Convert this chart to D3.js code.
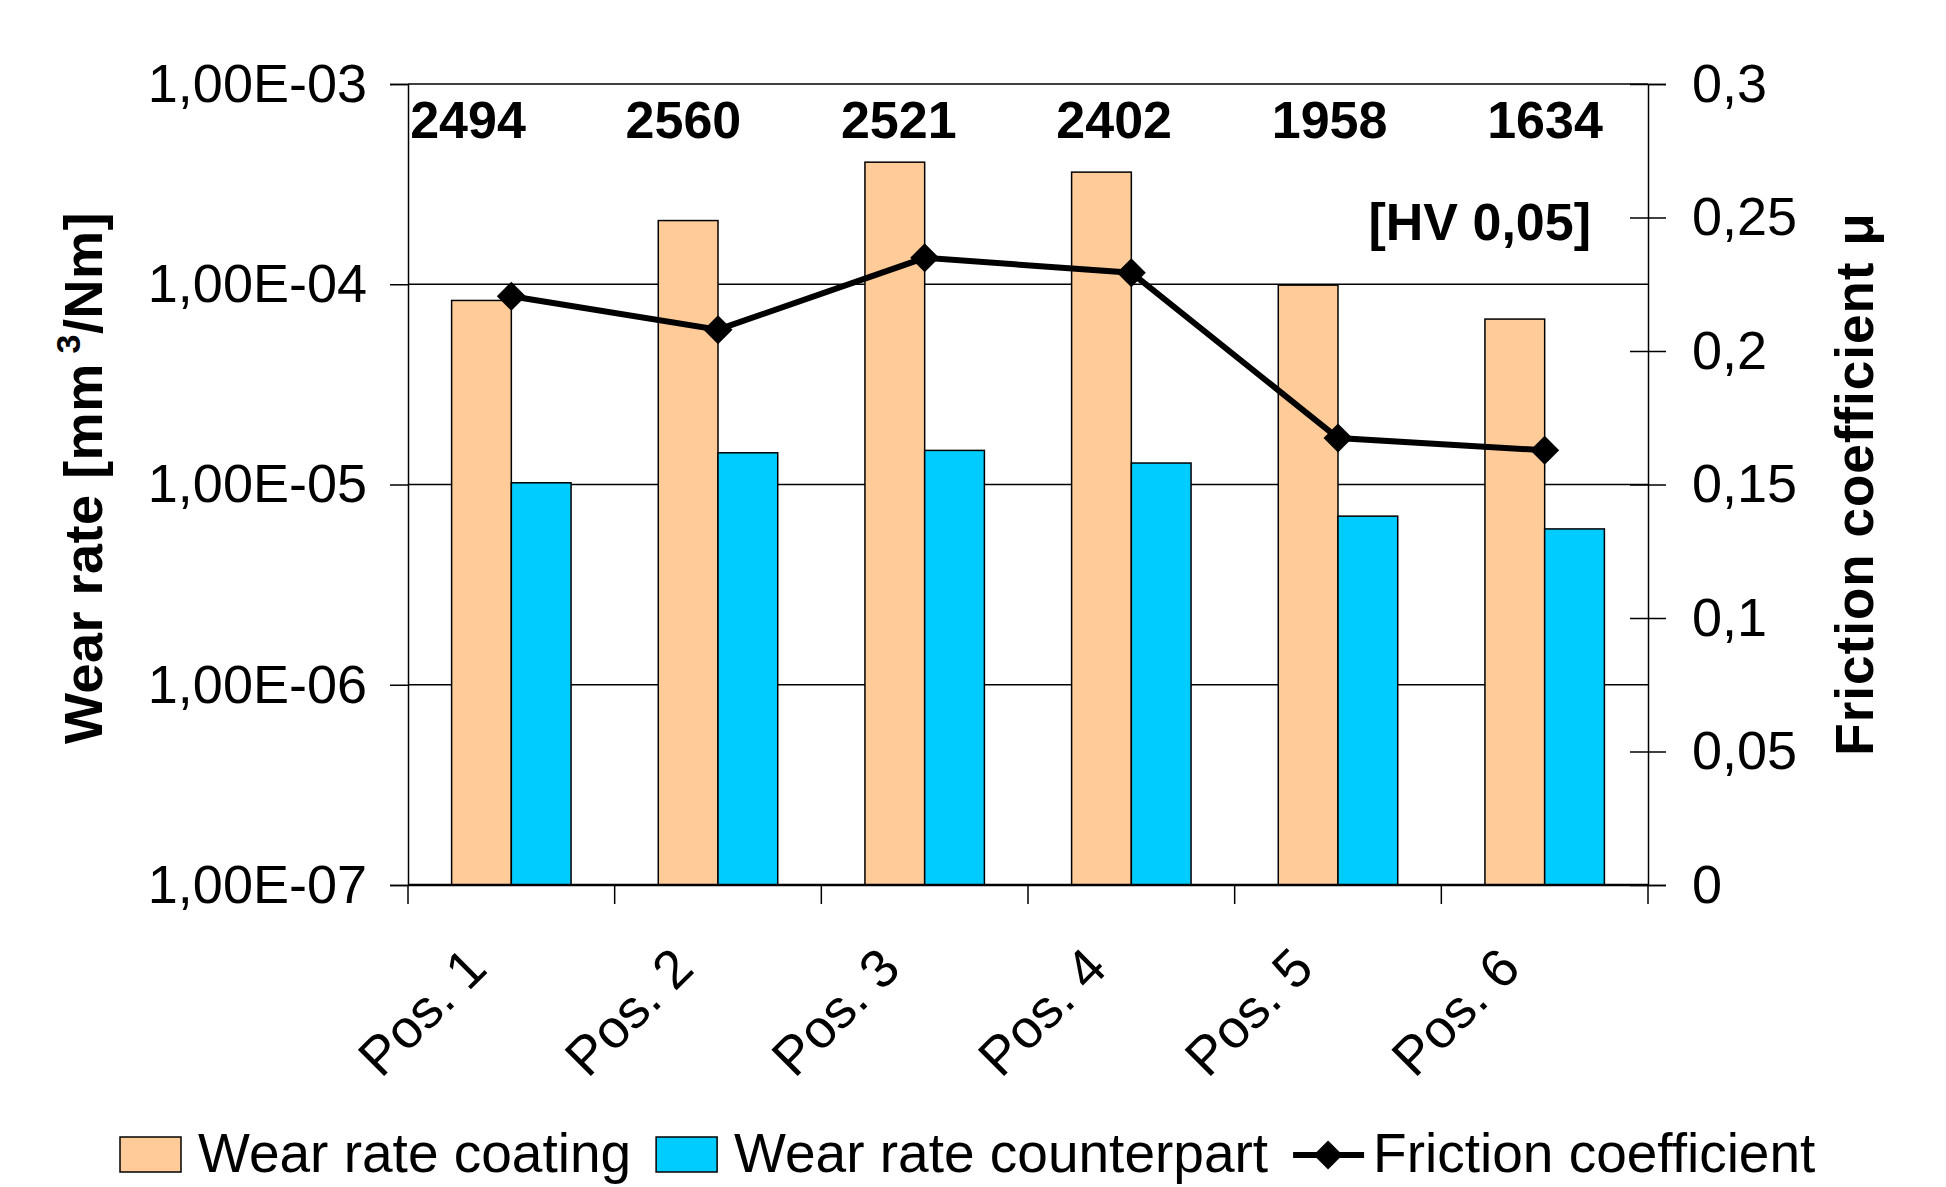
<!DOCTYPE html>
<html>
<head>
<meta charset="utf-8">
<script src="https://cdn.jsdelivr.net/npm/d3@7"></script>
<style>
	body { margin: 0; background: #fff; }
	svg { display: block; font-family: "Liberation Sans", Arial, sans-serif; }
</style>
</head>
<body>
<svg id="chart" width="1946" height="1187"></svg>
<script>
// values
const categories = ["Pos. 1", "Pos. 2", "Pos. 3", "Pos. 4", "Pos. 5", "Pos. 6"];
const wearCoating = [8.3e-5, 2.08e-4, 4.07e-4, 3.63e-4, 9.9e-5, 6.7e-5];
const wearCounterpart = [1.02e-5, 1.44e-5, 1.48e-5, 1.28e-5, 6.95e-6, 6.0e-6];
const friction = [0.2205, 0.208, 0.2349, 0.2293, 0.1674, 0.1628];
const hardness = [2494, 2560, 2521, 2402, 1958, 1634];
const leftTicks = [1e-7, 1e-6, 1e-5, 1e-4, 1e-3];
const rightTicks = [0, 0.05, 0.1, 0.15, 0.2, 0.25, 0.3];
const seriesNames = ["Wear rate coating", "Wear rate counterpart", "Friction coefficient"];
const seriesColors = ["#FFCC99", "#00CCFF", "#000000"];

const plotLeft = 408, plotRight = 1648, plotTop = 84, plotBottom = 885;
const font = 54;

const svg = d3.select("#chart");

const x0 = d3.scaleBand().domain(categories).range([plotLeft, plotRight]).padding(0);
const x1 = d3.scaleBand().domain([0, 1]).range([0, x0.bandwidth()]).paddingInner(0).paddingOuter(0.73);
const y = d3.scaleLog().domain([1e-7, 1e-3]).range([plotBottom, plotTop]);
const y2 = d3.scaleLinear().domain([0, 0.3]).range([plotBottom, plotTop]);

// horizontal gridlines on the decades
svg.append("g")
	.selectAll("line")
	.data(leftTicks)
	.enter().append("line")
	.attr("x1", plotLeft).attr("x2", plotRight)
	.attr("y1", d => y(d)).attr("y2", d => y(d))
	.attr("stroke", "#000")
	.attr("stroke-width", 1.5);

// bars
const rows = categories.map((c, i) => ({ c: c, vals: [wearCoating[i], wearCounterpart[i]] }));
svg.append("g")
	.selectAll("g")
	.data(rows)
	.enter().append("g")
	.attr("transform", d => "translate(" + x0(d.c) + ",0)")
	.selectAll("rect")
	.data(d => d.vals.map((v, k) => ({ k: k, v: v })))
	.enter().append("rect")
	.attr("x", d => x1(d.k))
	.attr("width", x1.bandwidth())
	.attr("y", d => y(d.v))
	.attr("height", d => plotBottom - y(d.v))
	.attr("fill", d => seriesColors[d.k])
	.attr("stroke", "#000")
	.attr("stroke-width", 1.5);

// left axis
const fmtExp = d => "1,00E-" + String(-Math.round(Math.log10(d))).padStart(2, "0");
const gLeft = svg.append("g")
	.attr("transform", "translate(" + plotLeft + ",0)")
	.call(d3.axisLeft(y).tickValues(leftTicks).tickFormat(fmtExp).tickSize(18).tickPadding(23));
gLeft.select(".domain").attr("stroke", "#000").attr("stroke-width", 1.5);
gLeft.selectAll(".tick line").attr("stroke-width", 1.5);
gLeft.selectAll("text").style("font-size", font + "px").attr("fill", "#000");

// right axis, ticks cross the line
const fmtComma = d => d3.format("~g")(d).replace(".", ",");
const gRight = svg.append("g")
	.attr("transform", "translate(" + plotRight + ",0)")
	.call(d3.axisRight(y2).tickValues(rightTicks).tickFormat(fmtComma).tickSize(18));
gRight.select(".domain").attr("stroke", "#000").attr("stroke-width", 1.5);
gRight.selectAll(".tick line").attr("x1", -18).attr("x2", 18).attr("stroke-width", 1.5);
gRight.selectAll("text").attr("x", 44).style("font-size", font + "px").attr("fill", "#000");

// bottom axis with ticks on category boundaries
const bounds = categories.map(c => x0(c)).concat([plotRight]);
svg.append("line")
	.attr("x1", plotLeft).attr("x2", plotRight)
	.attr("y1", plotBottom).attr("y2", plotBottom)
	.attr("stroke", "#000").attr("stroke-width", 2.5);
svg.append("g")
	.selectAll("line")
	.data(bounds)
	.enter().append("line")
	.attr("x1", d => d).attr("x2", d => d)
	.attr("y1", plotBottom).attr("y2", plotBottom + 19)
	.attr("stroke", "#000").attr("stroke-width", 1.5);

svg.append("g")
	.selectAll("text")
	.data(categories)
	.enter().append("text")
	.attr("transform", d => "translate(" + (x0(d) + x0.bandwidth() / 2 - 22) + "," + (plotBottom + 86) + ") rotate(-45)")
	.attr("text-anchor", "end")
	.style("font-size", "54px")
	.text(d => d);

// friction line
const cx = i => x0(categories[i]) + x0.bandwidth() / 2;
const line = d3.line().x((d, i) => cx(i)).y(d => y2(d));
svg.append("path")
	.datum(friction)
	.attr("d", line)
	.attr("fill", "none")
	.attr("stroke", "#000")
	.attr("stroke-width", 6);

const diamond = d3.symbol().type(d3.symbolSquare).size(420);
svg.append("g")
	.selectAll("path")
	.data(friction)
	.enter().append("path")
	.attr("d", diamond)
	.attr("transform", (d, i) => "translate(" + cx(i) + "," + y2(d) + ") rotate(45)")
	.attr("fill", "#000");

// hardness annotations
const xh = d3.scalePoint().domain(categories).range([468, 1545]);
svg.append("g")
	.selectAll("text")
	.data(hardness)
	.enter().append("text")
	.attr("x", (d, i) => xh(categories[i]))
	.attr("y", 138)
	.attr("text-anchor", "middle")
	.style("font-size", "52px")
	.style("font-weight", "bold")
	.text(d => d);

svg.append("text")
	.attr("x", 1591).attr("y", 240)
	.attr("text-anchor", "end")
	.style("font-size", "52px")
	.style("font-weight", "bold")
	.text("[HV 0,05]");

// axis titles
const yt = svg.append("text")
	.attr("transform", "translate(102,478) rotate(-90)")
	.attr("text-anchor", "middle")
	.style("font-size", "54px")
	.style("font-weight", "bold")
	.style("letter-spacing", "0.5px");
yt.append("tspan").text("Wear rate [mm");
yt.append("tspan").attr("dy", -22).style("font-size", "34px").text(" 3");
yt.append("tspan").attr("dy", 22).text("/Nm]");

svg.append("text")
	.attr("transform", "translate(1873,484) rotate(-90)")
	.attr("text-anchor", "middle")
	.style("font-size", "53px")
	.style("font-weight", "bold")
	.style("letter-spacing", "1px")
	.text("Friction coefficient \u03bc");

// legend
const lg = svg.append("g").attr("transform", "translate(120,1172)");
let lx = 0;
seriesNames.forEach((name, i) => {
	if (i < 2) {
		lg.append("rect")
			.attr("x", lx).attr("y", -35)
			.attr("width", 61).attr("height", 35)
			.attr("fill", seriesColors[i])
			.attr("stroke", "#000").attr("stroke-width", 1.5);
		lx += 78;
	} else {
		lg.append("line")
			.attr("x1", lx).attr("x2", lx + 71)
			.attr("y1", -17).attr("y2", -17)
			.attr("stroke", "#000").attr("stroke-width", 6);
		lg.append("path")
			.attr("d", diamond)
			.attr("transform", "translate(" + (lx + 35) + ",-17) rotate(45)");
		lx += 80;
	}
	const t = lg.append("text")
		.attr("x", lx).attr("y", 0)
		.style("font-size", "55px")
		.text(name);
	lx += t.node().getComputedTextLength() + 25;
});
</script>
</body>
</html>
